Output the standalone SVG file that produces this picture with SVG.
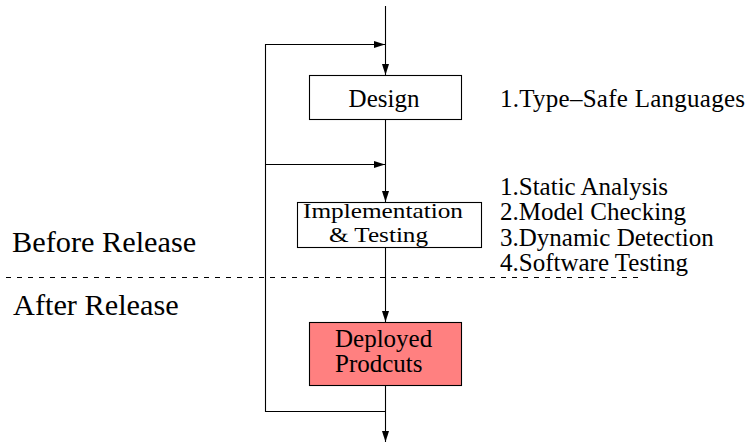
<svg xmlns="http://www.w3.org/2000/svg" width="748" height="444" viewBox="0 0 748 444">
  <style>
    .wire { fill: none; stroke: #000; stroke-width: 1.1; }
    .box { fill: #fff; stroke: #000; stroke-width: 1.1; }
    .hot { fill: #ff8080; }
    .lbl { font-family: 'Liberation Serif', 'Times New Roman', serif; font-size: 25px; fill: #000; }
    .big { font-size: 30.3px; }
    .tight { font-size: 21.5px; }
    .split { fill: none; stroke: #000; stroke-width: 1; stroke-dasharray: 5 6; }
  </style>
  <defs>
    <marker id="head" markerUnits="userSpaceOnUse" markerWidth="12" markerHeight="8" refX="11" refY="3.5" orient="auto">
      <path d="M0,0 L11,3.5 L0,7 Z" fill="#000"/>
    </marker>
  </defs>

  <!-- phase divider -->
  <line class="split" x1="6" y1="277.5" x2="640" y2="277.5"/>
  <text class="lbl big" x="12" y="252">Before Release</text>
  <text class="lbl big" x="13" y="315">After Release</text>

  <g id="connectors">
    <!-- main flow -->
    <line class="wire" x1="385.5" y1="6" x2="385.5" y2="75" marker-end="url(#head)"/>
    <line class="wire" x1="385.5" y1="119" x2="385.5" y2="202" marker-end="url(#head)"/>
    <line class="wire" x1="385.5" y1="247" x2="385.5" y2="322" marker-end="url(#head)"/>
    <line class="wire" x1="385.5" y1="386" x2="385.5" y2="442" marker-end="url(#head)"/>
    <!-- feedback loop -->
    <polyline class="wire" points="385.5,411.5 265.5,411.5 265.5,44.5 385,44.5" marker-end="url(#head)"/>
    <line class="wire" x1="265.5" y1="164.5" x2="385" y2="164.5" marker-end="url(#head)"/>
  </g>

  <g id="design">
    <rect class="box" x="309.5" y="75.5" width="152" height="44"/>
    <text class="lbl" x="384" y="107" text-anchor="middle">Design</text>
  </g>

  <g id="implementation">
    <rect class="box" x="297.5" y="202.5" width="184" height="45"/>
    <text class="lbl tight" x="303" y="217.5" textLength="160" lengthAdjust="spacingAndGlyphs">Implementation</text>
    <text class="lbl tight" x="329" y="241.5" textLength="99" lengthAdjust="spacingAndGlyphs">&amp; Testing</text>
  </g>

  <g id="deployed">
    <rect class="box hot" x="309.5" y="322.5" width="152" height="63"/>
    <text class="lbl" x="335" y="347">Deployed</text>
    <text class="lbl" x="335" y="372">Prodcuts</text>
  </g>

  <g id="design-notes">
    <text class="lbl" x="500" y="107" textLength="245" lengthAdjust="spacing">1.Type–Safe Languages</text>
  </g>

  <g id="implementation-notes">
    <text class="lbl" x="500" y="195">1.Static Analysis</text>
    <text class="lbl" x="500" y="220">2.Model Checking</text>
    <text class="lbl" x="500" y="245.5">3.Dynamic Detection</text>
    <text class="lbl" x="500" y="270.5">4.Software Testing</text>
  </g>
</svg>
